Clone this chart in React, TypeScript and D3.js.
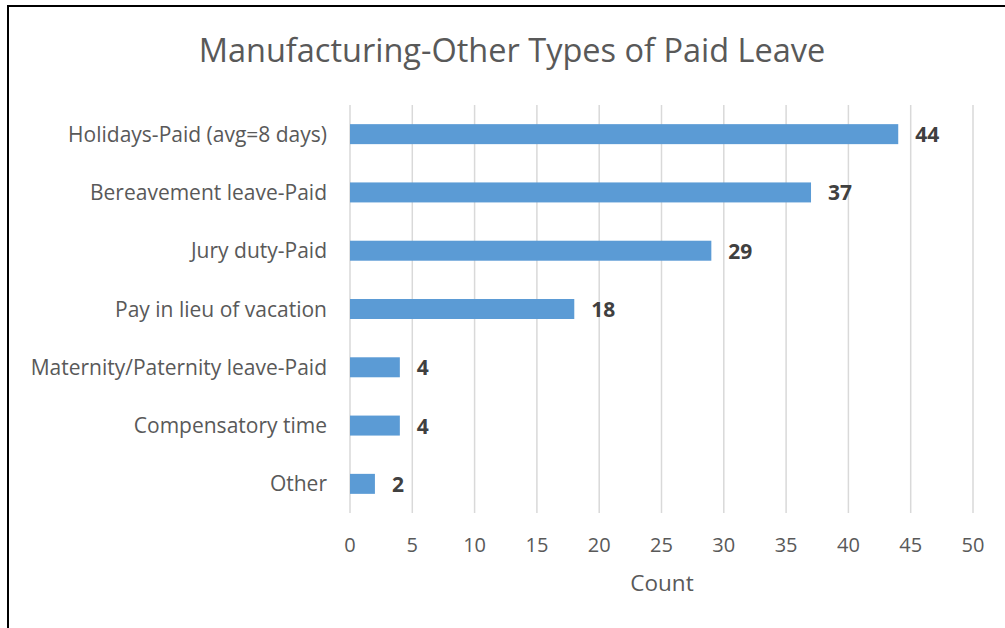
import React from "react";
import * as d3 from "d3";

const categories = [
  "Holidays-Paid (avg=8 days)",
  "Bereavement leave-Paid",
  "Jury duty-Paid",
  "Pay in lieu of vacation",
  "Maternity/Paternity leave-Paid",
  "Compensatory time",
  "Other",
];
const counts = [44, 37, 29, 18, 4, 4, 2];
const xTicks = [0, 5, 10, 15, 20, 25, 30, 35, 40, 45, 50];
const title = "Manufacturing-Other Types of Paid Leave";
const xTitle = "Count";

const W = 1005;
const H = 628;
const font = "'Open Sans', sans-serif";

export default function App() {
  const x = d3.scaleLinear().domain([0, 50]).range([350, 973]);
  const y = d3.scaleBand<string>().domain(categories).range([105, 513]).paddingInner(0.657).paddingOuter(0.3285);
  return (
    <svg width={W} height={H} style={{ position: "absolute", left: 0, top: 0 }}>
      <rect x={0} y={0} width={W} height={H} fill="#fff" />
      <line x1={8} y1={6} x2={W} y2={6} stroke="#000" strokeWidth={2} />
      <line x1={8} y1={5} x2={8} y2={H} stroke="#000" strokeWidth={2} />
      <text x={512} y={62} textAnchor="middle" fontFamily={font} fontSize={32.5} fill="#595959">{title}</text>
      {xTicks.map((t) => (
        <g key={t}>
          <line x1={x(t)} x2={x(t)} y1={105} y2={513} stroke="#d9d9d9" strokeWidth={1.5} />
          <text x={x(t)} y={552} textAnchor="middle" fontFamily={font} fontSize={20} fill="#595959">{t}</text>
        </g>
      ))}
      {categories.map((c, i) => {
        const yy = y(c)!;
        const bw = y.bandwidth();
        return (
          <g key={c}>
            <rect x={x(0)} y={yy} width={x(counts[i]) - x(0)} height={bw} fill="#5b9bd5" />
            <text x={327} y={yy + bw / 2} dy="0.36em" textAnchor="end" fontFamily={font} fontSize={21} fill="#595959">{c}</text>
            <text x={x(counts[i]) + 17} y={yy + bw / 2} dy="0.38em" textAnchor="start" fontFamily={font} fontSize={21} fontWeight="bold" fill="#404040">{counts[i]}</text>
          </g>
        );
      })}
      <text x={662} y={591} textAnchor="middle" fontFamily={font} fontSize={22.5} fill="#595959">{xTitle}</text>
    </svg>
  );
}
